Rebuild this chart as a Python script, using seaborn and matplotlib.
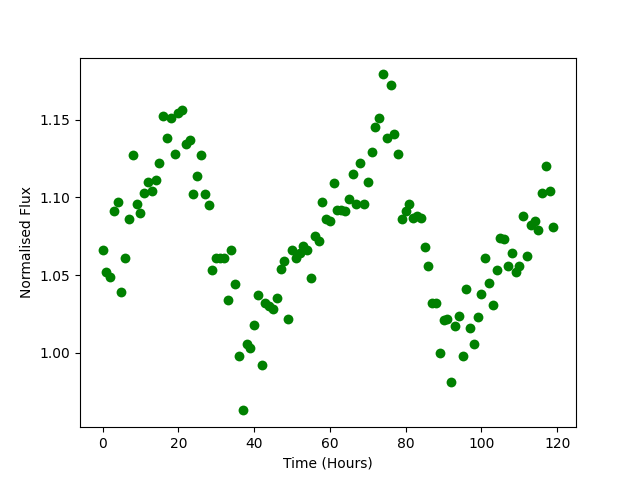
"""
Light curve: normalised flux against time
"""
import numpy as np
import pandas as pd
import matplotlib
matplotlib.use('Agg')
import matplotlib.pyplot as plt
import seaborn as sns

# Hours of observation, one reading per hour
hours = list(range(120))

# Normalised flux
flux = [
    1.066, 1.052, 1.049, 1.091, 1.097, 1.039, 1.061, 1.086, 1.127, 1.096,
    1.090, 1.103, 1.110, 1.104, 1.111, 1.122, 1.152, 1.138, 1.151, 1.128,
    1.154, 1.156, 1.134, 1.137, 1.102, 1.114, 1.127, 1.102, 1.095, 1.053,
    1.061, 1.061, 1.061, 1.034, 1.066, 1.044, 0.998, 0.963, 1.006, 1.003,
    1.018, 1.037, 0.992, 1.032, 1.030, 1.028, 1.035, 1.054, 1.059, 1.022,
    1.066, 1.061, 1.064, 1.069, 1.066, 1.048, 1.075, 1.072, 1.097, 1.086,
    1.085, 1.109, 1.092, 1.092, 1.091, 1.099, 1.115, 1.096, 1.122, 1.096,
    1.110, 1.129, 1.145, 1.151, 1.179, 1.138, 1.172, 1.141, 1.128, 1.086,
    1.091, 1.096, 1.087, 1.088, 1.087, 1.068, 1.056, 1.032, 1.032, 1.000,
    1.021, 1.022, 0.981, 1.017, 1.024, 0.998, 1.041, 1.016, 1.006, 1.023,
    1.038, 1.061, 1.045, 1.031, 1.053, 1.074, 1.073, 1.056, 1.064, 1.052,
    1.056, 1.088, 1.062, 1.082, 1.085, 1.079, 1.103, 1.120, 1.104, 1.081,
]

df = pd.DataFrame({'hours': hours, 'flux': flux})

fig, ax = plt.subplots(figsize=(6.4, 4.8), dpi=100)
sns.scatterplot(data=df, x='hours', y='flux', color='green', s=50,
                linewidth=0, ax=ax)
ax.set_xlabel('Time (Hours)')
ax.set_ylabel('Normalised Flux')

plt.savefig('out.png', dpi=100)
plt.close()
